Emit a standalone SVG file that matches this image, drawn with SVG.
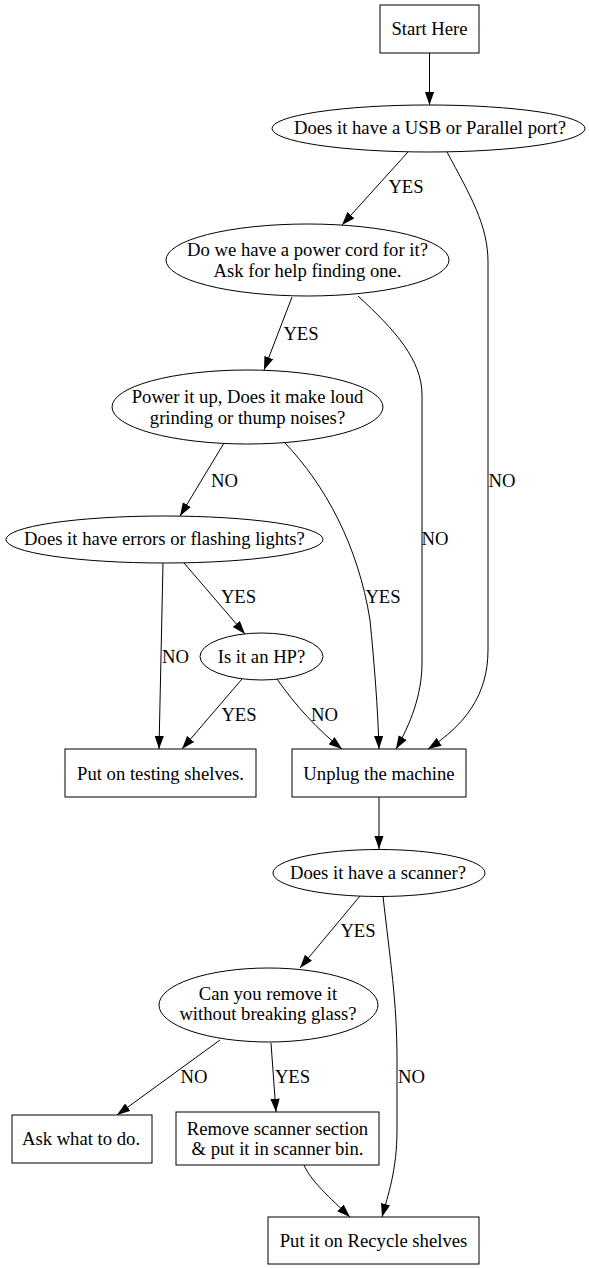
<svg xmlns="http://www.w3.org/2000/svg" width="589" height="1269" viewBox="0 0 589 1269">
<style>
.n{fill:#fff;stroke:#000;stroke-width:1}
.t{font-family:"Liberation Serif","Times New Roman",serif;font-size:18.67px;fill:#000;text-anchor:middle}
.e{fill:none;stroke:#000;stroke-width:1;marker-end:url(#ah)}
</style>
<defs>
<marker id="ah" markerWidth="14" markerHeight="10" refX="13.3" refY="4.67" orient="auto" markerUnits="userSpaceOnUse">
<path d="M0,0 L13.3,4.67 L0,9.33 z" fill="#000"/>
</marker>
</defs>
<rect width="589" height="1269" fill="#fff"/>
<g id="edges">
<path class="e" d="M429.5,53 L429.5,105"/>
<path class="e" d="M408,152 L342,225"/>
<text class="t" x="406" y="193">YES</text>
<path class="e" d="M447,152 C470,195 488,225 488,262 L488,650 C488,695 465,725 428,749"/>
<text class="t" x="502" y="487">NO</text>
<path class="e" d="M292,297 L264,370"/>
<text class="t" x="301" y="340">YES</text>
<path class="e" d="M358,296 C395,330 422,360 422,395 L422,663 C422,695 410,725 396,749"/>
<text class="t" x="435" y="545">NO</text>
<path class="e" d="M224,443 L180,516"/>
<text class="t" x="224.5" y="487">NO</text>
<path class="e" d="M285,443 C325,485 358,545 370,620 C374,660 378,710 379,749"/>
<text class="t" x="383" y="603">YES</text>
<path class="e" d="M163,563 L159,749"/>
<text class="t" x="175.5" y="663">NO</text>
<path class="e" d="M184,563 L245,634"/>
<text class="t" x="238.5" y="603">YES</text>
<path class="e" d="M242,679 L182,749"/>
<text class="t" x="239" y="721">YES</text>
<path class="e" d="M277,679 C295,705 318,730 342,749"/>
<text class="t" x="324.5" y="721">NO</text>
<path class="e" d="M379,797 L379,849"/>
<path class="e" d="M360,896 L300,968"/>
<text class="t" x="358" y="937">YES</text>
<path class="e" d="M383,896 C390,960 397,1000 397,1060 L397,1130 C397,1170 388,1195 382,1217"/>
<text class="t" x="411.5" y="1083">NO</text>
<path class="e" d="M220,1040 L117,1115"/>
<text class="t" x="194" y="1083">NO</text>
<path class="e" d="M271,1043 L276,1112"/>
<text class="t" x="292.5" y="1083">YES</text>
<path class="e" d="M304,1165 C310,1180 330,1198 350,1217"/>
</g>
<g id="start"><rect class="n" x="380" y="5" width="99" height="48"/><text class="t" x="429.5" y="35">Start Here</text></g>
<g id="usb"><ellipse class="n" cx="428.5" cy="128.5" rx="156.5" ry="23.5"/><text class="t" x="430" y="134">Does it have a USB or Parallel port?</text></g>
<g id="cord"><ellipse class="n" cx="307.5" cy="260" rx="141.5" ry="36"/><text class="t" x="307.5" y="256">Do we have a power cord for it?</text><text class="t" x="307.5" y="277">Ask for help finding one.</text></g>
<g id="power"><ellipse class="n" cx="247.5" cy="407" rx="135.5" ry="37"/><text class="t" x="247.5" y="403">Power it up, Does it make loud</text><text class="t" x="247.5" y="424">grinding or thump noises?</text></g>
<g id="errors"><ellipse class="n" cx="164.5" cy="539.5" rx="158.5" ry="23.5"/><text class="t" x="164.5" y="545">Does it have errors or flashing lights?</text></g>
<g id="hp"><ellipse class="n" cx="261.5" cy="656.5" rx="61.5" ry="23.5"/><text class="t" x="261.5" y="663">Is it an HP?</text></g>
<g id="testing"><rect class="n" x="65" y="749" width="191" height="48"/><text class="t" x="160.5" y="780">Put on testing shelves.</text></g>
<g id="unplug"><rect class="n" x="292" y="749" width="174" height="48"/><text class="t" x="379" y="780">Unplug the machine</text></g>
<g id="scanner"><ellipse class="n" cx="379" cy="873" rx="106" ry="23.5"/><text class="t" x="378" y="879">Does it have a scanner?</text></g>
<g id="canyou"><ellipse class="n" cx="268.5" cy="1005" rx="109.5" ry="37"/><text class="t" x="268" y="1000">Can you remove it</text><text class="t" x="268" y="1020">without breaking glass?</text></g>
<g id="ask"><rect class="n" x="12" y="1115" width="140" height="48"/><text class="t" x="81" y="1145">Ask what to do.</text></g>
<g id="remove"><rect class="n" x="176" y="1112" width="203" height="53"/><text class="t" x="277.5" y="1135">Remove scanner section</text><text class="t" x="277.5" y="1155">&amp; put it in scanner bin.</text></g>
<g id="recycle"><rect class="n" x="268" y="1217" width="211" height="47"/><text class="t" x="373.5" y="1247">Put it on Recycle shelves</text></g>
</svg>
